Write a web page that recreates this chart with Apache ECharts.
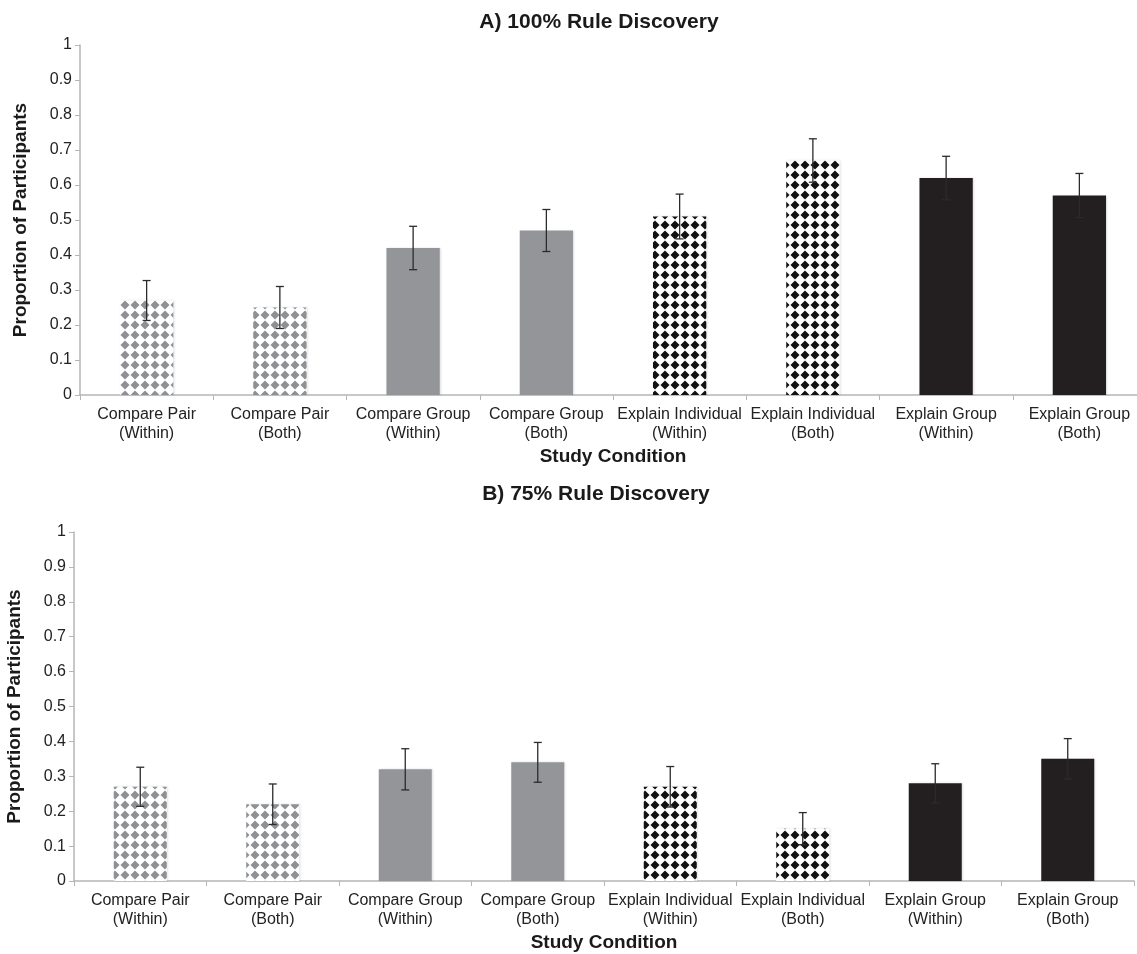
<!DOCTYPE html>
<html>
<head>
<meta charset="utf-8">
<script src="https://cdn.jsdelivr.net/npm/echarts@6/dist/echarts.min.js"></script>
<style>
html,body{margin:0;padding:0;background:#fff;}
#chart{width:1137px;height:954px;}
</style>
</head>
<body>
<div id="chart"></div>
<script>
// ---- data ----
var categories = ['Compare Pair\n(Within)', 'Compare Pair\n(Both)', 'Compare Group\n(Within)', 'Compare Group\n(Both)',
  'Explain Individual\n(Within)', 'Explain Individual\n(Both)', 'Explain Group\n(Within)', 'Explain Group\n(Both)'];
var titleA = 'A) 100% Rule Discovery';
var titleB = 'B) 75% Rule Discovery';
var valuesA = [0.27, 0.25, 0.42, 0.47, 0.51, 0.67, 0.62, 0.57];
var errorsA = [0.057, 0.060, 0.062, 0.060, 0.064, 0.062, 0.062, 0.063];
var valuesB = [0.27, 0.22, 0.32, 0.34, 0.27, 0.15, 0.28, 0.35];
var errorsB = [0.056, 0.058, 0.059, 0.057, 0.058, 0.046, 0.056, 0.058];
var fillKinds = ['grayDiamond', 'grayDiamond', 'gray', 'gray', 'blackDiamond', 'blackDiamond', 'black', 'black'];

// ---- patterns ----
function diamondPattern(color) {
  var c = document.createElement('canvas');
  c.width = 10; c.height = 10;
  var g = c.getContext('2d');
  g.fillStyle = '#ffffff';
  g.fillRect(0, 0, 10, 10);
  g.fillStyle = color;
  g.beginPath();
  g.moveTo(5, 0.5); g.lineTo(9.5, 5); g.lineTo(5, 9.5); g.lineTo(0.5, 5);
  g.closePath();
  g.fill();
  return { image: c, repeat: 'repeat' };
}
var fills = {
  grayDiamond: diamondPattern('#8f9093'),
  blackDiamond: diamondPattern('#111111'),
  gray: '#939598',
  black: '#231f20'
};

var FONT = 'Liberation Sans, Arial, Helvetica, sans-serif';
var axisGray = '#b5b5b5';

function barData(vals) {
  return vals.map(function (v, i) {
    return { value: v, itemStyle: { color: fills[fillKinds[i]], shadowColor: 'rgba(0,0,0,0.12)', shadowBlur: 2, shadowOffsetX: 1 } };
  });
}
function errData(vals, errs) {
  return vals.map(function (v, i) { return [i, v - errs[i], v + errs[i]]; });
}
function renderErr(params, api) {
  var x = api.value(0);
  var lo = api.coord([x, api.value(1)]);
  var hi = api.coord([x, api.value(2)]);
  var cap = 4;
  var style = { stroke: '#2b2b2b', lineWidth: 1.3 };
  return {
    type: 'group',
    children: [
      { type: 'line', shape: { x1: hi[0], y1: hi[1], x2: lo[0], y2: lo[1] }, style: style },
      { type: 'line', shape: { x1: hi[0] - cap, y1: hi[1], x2: hi[0] + cap, y2: hi[1] }, style: style },
      { type: 'line', shape: { x1: lo[0] - cap, y1: lo[1], x2: lo[0] + cap, y2: lo[1] }, style: style }
    ]
  };
}

function xAxisCfg(gi) {
  return {
    type: 'category', gridIndex: gi, data: categories,
    name: 'Study Condition', nameLocation: 'middle', nameGap: 52,
    nameTextStyle: { fontFamily: FONT, fontWeight: 'bold', fontSize: 19, color: '#1a1a1a' },
    axisLine: { lineStyle: { color: axisGray, width: 1.5 } },
    axisTick: { show: true, length: 5, lineStyle: { color: axisGray } },
    axisLabel: { interval: 0, fontFamily: FONT, fontSize: 16, color: '#222', lineHeight: 19, margin: 10 }
  };
}
function yAxisCfg(gi) {
  return {
    type: 'value', gridIndex: gi, min: 0, max: 1, interval: 0.1,
    name: 'Proportion of Participants', nameLocation: 'middle', nameGap: 50,
    nameTextStyle: { fontFamily: FONT, fontWeight: 'bold', fontSize: 19, color: '#1a1a1a' },
    axisLine: { show: true, lineStyle: { color: axisGray, width: 1.5 } },
    axisTick: { show: true, length: 5, lineStyle: { color: axisGray } },
    splitLine: { show: false },
    axisLabel: {
      fontFamily: FONT, fontSize: 16, color: '#222', margin: 8,
      formatter: function (v) { return String(Math.round(v * 10) / 10); }
    }
  };
}

var chart = echarts.init(document.getElementById('chart'), null, { renderer: 'canvas' });
chart.setOption({
  animation: false,
  backgroundColor: '#ffffff',
  title: [
    { text: titleA, left: 594, top: 7, textAlign: 'center',
      textStyle: { fontFamily: FONT, fontWeight: 'bold', fontSize: 21, color: '#1a1a1a' } },
    { text: titleB, left: 591, top: 479, textAlign: 'center',
      textStyle: { fontFamily: FONT, fontWeight: 'bold', fontSize: 21, color: '#1a1a1a' } }
  ],
  grid: [
    { left: 80, width: 1066, top: 45, height: 350, outerBoundsMode: 'none', containLabel: false },
    { left: 74, width: 1060, top: 532, height: 349, outerBoundsMode: 'none', containLabel: false }
  ],
  xAxis: [xAxisCfg(0), xAxisCfg(1)],
  yAxis: [yAxisCfg(0), yAxisCfg(1)],
  series: [
    { type: 'bar', xAxisIndex: 0, yAxisIndex: 0, data: barData(valuesA), barWidth: '40%' },
    { type: 'custom', xAxisIndex: 0, yAxisIndex: 0, data: errData(valuesA, errorsA), renderItem: renderErr, z: 5 },
    { type: 'bar', xAxisIndex: 1, yAxisIndex: 1, data: barData(valuesB), barWidth: '40%' },
    { type: 'custom', xAxisIndex: 1, yAxisIndex: 1, data: errData(valuesB, errorsB), renderItem: renderErr, z: 5 }
  ]
});
</script>
</body>
</html>
